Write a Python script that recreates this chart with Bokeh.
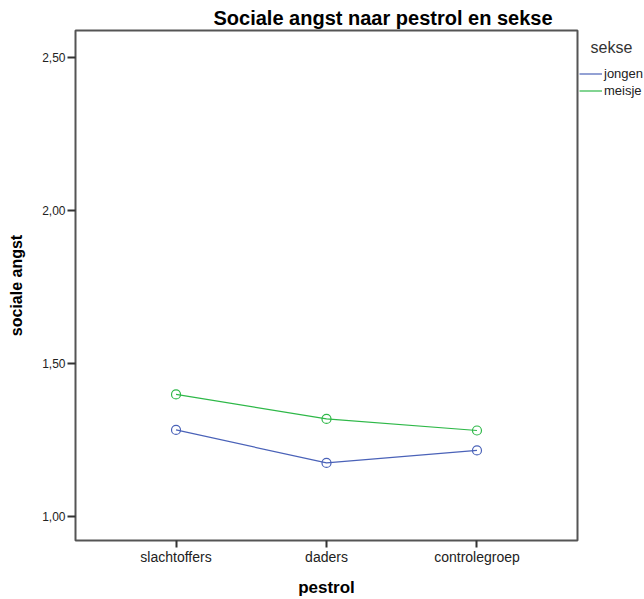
from bokeh.plotting import figure
from bokeh.layouts import row
from bokeh.models import FactorRange, Range1d, Legend, LegendItem, ColumnDataSource, Label
from bokeh.embed import file_html
from bokeh.resources import INLINE

categories = ["slachtoffers", "daders", "controlegroep"]
jongen = [1.283, 1.175, 1.216]
meisje = [1.399, 1.319, 1.281]
y_ticks = [1.0, 1.5, 2.0, 2.5]
y_tick_labels = {1.0: "1,00", 1.5: "1,50", 2.0: "2,00", 2.5: "2,50"}
series_names = ["jongen", "meisje"]
legend_title = "sekse"

FONT = "Liberation Sans"
BLUE = "#4a62b8"
GREEN = "#2EB848"

x_range = FactorRange(*categories, range_padding=0.112)
y_range = Range1d(0.9216, 2.588)

p = figure(
    width=579, height=599, x_range=x_range, y_range=y_range,
    output_backend="svg", toolbar_location=None,
    min_border_left=75, min_border_right=2, min_border_top=30, min_border_bottom=59,
)

p.title.text = "Sociale angst naar pestrol en sekse"
p.title.text_font = FONT
p.title.text_font_size = "20px"
p.title.text_font_style = "bold"
p.title.text_color = "#000000"
p.title.align = "left"
p.title.offset = 138
p.title.standoff = 4

p.xgrid.visible = False
p.ygrid.visible = False
p.outline_line_color = "#555555"
p.outline_line_width = 2
p.background_fill_color = "white"
p.border_fill_color = "white"

for ax in (p.xaxis[0], p.yaxis[0]):
    ax.axis_line_color = None
    ax.major_tick_in = 0
    ax.major_tick_line_color = "#333333"
    ax.major_tick_line_width = 2
    ax.minor_tick_line_color = None
    ax.major_label_text_font = FONT
    ax.major_label_text_color = "#222222"
    ax.axis_label_text_font = FONT
    ax.axis_label_text_font_style = "bold"
    ax.axis_label_text_color = "#000000"

p.yaxis.ticker = y_ticks
p.yaxis.major_label_overrides = y_tick_labels
p.yaxis.major_tick_out = 8
p.yaxis.major_label_standoff = 2
p.yaxis.major_label_text_font_size = "12px"
p.yaxis.axis_label = "sociale angst"
p.yaxis.axis_label_text_font_size = "16px"
p.yaxis.axis_label_standoff = 14

p.xaxis.major_tick_out = 7
p.xaxis.major_label_standoff = 1
p.xaxis.major_label_text_font_size = "14px"
p.xaxis.axis_label = "pestrol"
p.xaxis.axis_label_text_font_size = "17px"
p.xaxis.axis_label_standoff = 10

src = ColumnDataSource(dict(x=categories, jongen=jongen, meisje=meisje))
p.line("x", "jongen", source=src, line_color=BLUE, line_width=1.2)
p.scatter("x", "jongen", source=src, marker="circle", size=9, fill_color=None,
          line_color=BLUE, line_width=1.2)
p.line("x", "meisje", source=src, line_color=GREEN, line_width=1.2)
p.scatter("x", "meisje", source=src, marker="circle", size=9, fill_color=None,
          line_color=GREEN, line_width=1.2)

# legend panel to the right of the frame
q = figure(
    width=65, height=599, x_range=x_range, y_range=y_range,
    output_backend="svg", toolbar_location=None,
    x_axis_type=None, y_axis_type=None,
    min_border_left=0, min_border_right=0, min_border_top=0, min_border_bottom=0,
)
q.xgrid.visible = False
q.ygrid.visible = False
q.outline_line_color = None
q.background_fill_color = "white"
q.border_fill_color = "white"

lj = q.line("x", "jongen", source=src, line_color=BLUE, line_width=1.2, visible=False)
lm = q.line("x", "meisje", source=src, line_color=GREEN, line_width=1.2, visible=False)

legend = Legend(
    items=[LegendItem(label=series_names[0], renderers=[lj]),
           LegendItem(label=series_names[1], renderers=[lm])],
    location=(0, 441), orientation="vertical",
    glyph_width=23, glyph_height=17, label_height=17, label_standoff=2,
    padding=0, margin=0, spacing=0,
    border_line_color=None, background_fill_alpha=0,
    label_text_font=FONT, label_text_font_size="13px", label_text_color="#222222",
)
q.add_layout(legend)
q.add_layout(Label(x=11, y=493, x_units="screen", y_units="screen", text=legend_title,
                   text_font=FONT, text_font_size="16px", text_color="#333333",
                   text_baseline="middle"))

layout = row(p, q, spacing=0)
open("out.html", "w").write(file_html(layout, INLINE))
